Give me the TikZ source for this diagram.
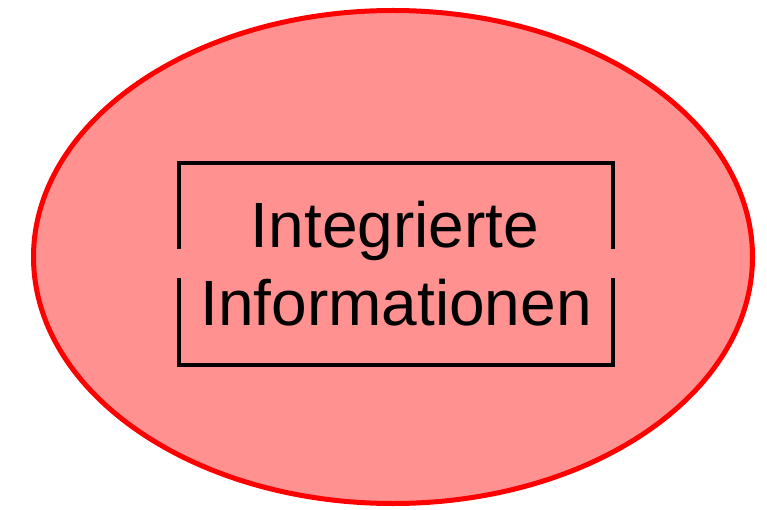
\documentclass[tikz,border=0pt]{standalone}
\usepackage{fontspec}
\setmainfont{Liberation Sans}
\usetikzlibrary{shapes.geometric}
\definecolor{blobfill}{RGB}{255,145,145}
\tikzset{
  x=1pt, y=1pt,
  outerblob/.style={ellipse, draw=red, fill=blobfill, line width=5pt,
    minimum width=719pt, minimum height=493pt, inner sep=0pt},
  label text/.style={font=\fontsize{64}{77}\selectfont, anchor=base, inner sep=0pt},
  frame line/.style={draw=black, line width=4pt}
}
\begin{document}
\begin{tikzpicture}
  \useasboundingbox (0,0) rectangle (767,-510);
  % red ellipse in the background
  \node[outerblob] (blob) at (393,-257) {};
  % frame around the text, open in the middle of both sides
  \coordinate (tl) at (178.5,-163.5);
  \coordinate (tr) at (613,-163.5);
  \coordinate (bl) at (178.5,-365);
  \coordinate (br) at (613,-365);
  \coordinate (lgapA) at (178.5,-249);
  \coordinate (rgapA) at (613,-249);
  \coordinate (lgapB) at (178.5,-278);
  \coordinate (rgapB) at (613,-278);
  \draw[frame line] (lgapA) -- (tl) -- (tr) -- (rgapA);
  \draw[frame line] (lgapB) -- (bl) -- (br) -- (rgapB);
  % two lines of text
  \node[label text] (line1) at (395,-248) {Integrierte};
  \node[label text] (line2) at (396,-325) {Informationen};
\end{tikzpicture}
\end{document}
